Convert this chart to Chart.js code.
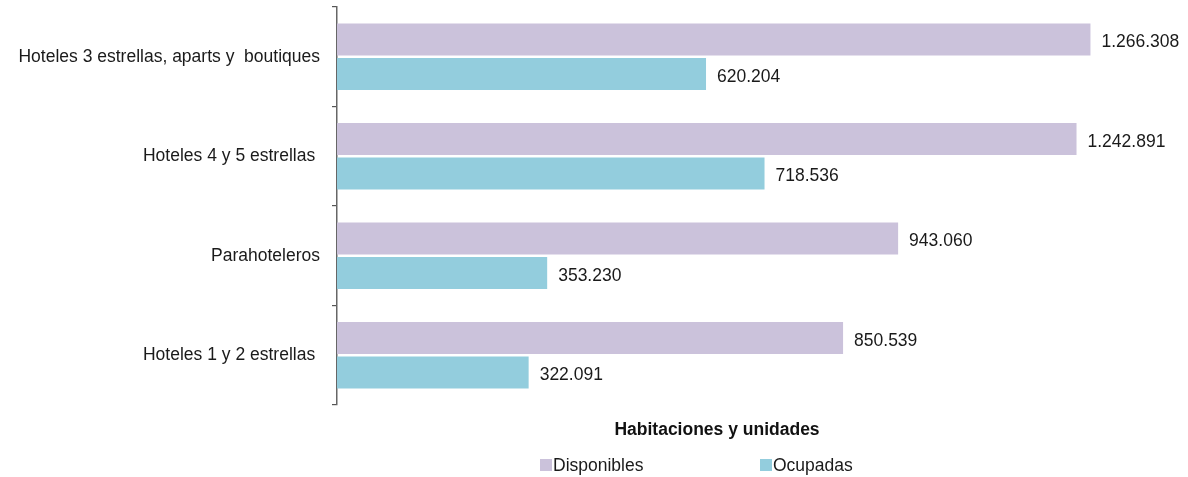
<!DOCTYPE html>
<html>
<head>
<meta charset="utf-8">
<script src="https://cdn.jsdelivr.net/npm/chart.js@4"></script>
<style>
  html, body { margin: 0; padding: 0; background: #fff; overflow: hidden; }
  #wrap { position: relative; width: 1188px; height: 477px; }
</style>
</head>
<body>
<div id="wrap"><canvas id="hotelChart" width="1188" height="477"></canvas></div>
<script>
// Categories (top to bottom) and series values
const categories = [
    'Hoteles 3 estrellas, aparts y  boutiques',
    'Hoteles 4 y 5 estrellas ',
    'Parahoteleros',
    'Hoteles 1 y 2 estrellas '
];
const disponibles = [1266308, 1242891, 943060, 850539];
const ocupadas = [620204, 718536, 353230, 322091];
const seriesNames = ['Disponibles', 'Ocupadas'];
const chartTitle = 'Habitaciones y unidades';

const purple = '#cbc2db';
const teal = '#93cddd';
const fontFamily = '"Liberation Sans", Arial, Helvetica, sans-serif';
const fontSize = 17.5;

// Format numbers with dots as thousands separator
function formatNumber(v) {
    return String(v).replace(/\B(?=(\d{3})+(?!\d))/g, '.');
}

// Draw value labels at the end of each bar
const valueLabels = {
    id: 'valueLabels',
    afterDatasetsDraw(chart) {
        const ctx = chart.ctx;
        ctx.save();
        ctx.font = fontSize + 'px ' + fontFamily;
        ctx.fillStyle = '#1a1a1a';
        ctx.textAlign = 'left';
        ctx.textBaseline = 'middle';
        chart.data.datasets.forEach((ds, i) => {
            chart.getDatasetMeta(i).data.forEach((bar, j) => {
                ctx.fillText(formatNumber(ds.data[j]), bar.x + 11, bar.y + 3);
            });
        });
        ctx.restore();
    }
};

// Title and legend below the plot
const bottomLegend = {
    id: 'bottomLegend',
    afterDraw(chart) {
        const ctx = chart.ctx;
        ctx.save();
        ctx.fillStyle = '#111';
        ctx.font = 'bold ' + fontSize + 'px ' + fontFamily;
        ctx.textAlign = 'center';
        ctx.textBaseline = 'middle';
        ctx.fillText(chartTitle, 717, 430);

        const items = [
            { x: 540, color: purple, text: seriesNames[0] },
            { x: 760, color: teal, text: seriesNames[1] }
        ];
        ctx.font = fontSize + 'px ' + fontFamily;
        ctx.textAlign = 'left';
        items.forEach(it => {
            ctx.fillStyle = it.color;
            ctx.fillRect(it.x, 459, 12, 12);
            ctx.fillStyle = '#1a1a1a';
            ctx.fillText(it.text, it.x + 13, 466);
        });
        ctx.restore();
    }
};

new Chart(document.getElementById('hotelChart'), {
    type: 'bar',
    data: {
        labels: categories,
        datasets: [
            {
                label: seriesNames[0],
                data: disponibles,
                backgroundColor: purple,
                borderWidth: 0,
                categoryPercentage: 0.69,
                barPercentage: 0.93
            },
            {
                label: seriesNames[1],
                data: ocupadas,
                backgroundColor: teal,
                borderWidth: 0,
                categoryPercentage: 0.69,
                barPercentage: 0.93
            }
        ]
    },
    options: {
        indexAxis: 'y',
        responsive: false,
        animation: false,
        layout: {
            padding: { top: 7, bottom: 72, left: 0, right: 18 }
        },
        scales: {
            x: {
                display: false,
                min: 0,
                max: 1400000
            },
            y: {
                afterFit(scale) {
                    scale.width = 337;
                    scale.paddingTop = 0;
                    scale.paddingBottom = 0;
                },
                border: {
                    display: true,
                    color: '#666',
                    width: 1.5
                },
                grid: {
                    drawOnChartArea: false,
                    drawTicks: true,
                    tickLength: 5,
                    color: '#555',
                    lineWidth: 1.2
                },
                ticks: {
                    color: '#1a1a1a',
                    padding: 12,
                    font: { family: fontFamily, size: fontSize }
                }
            }
        },
        plugins: {
            legend: { display: false },
            tooltip: { enabled: false }
        }
    },
    plugins: [valueLabels, bottomLegend]
});
</script>
</body>
</html>
